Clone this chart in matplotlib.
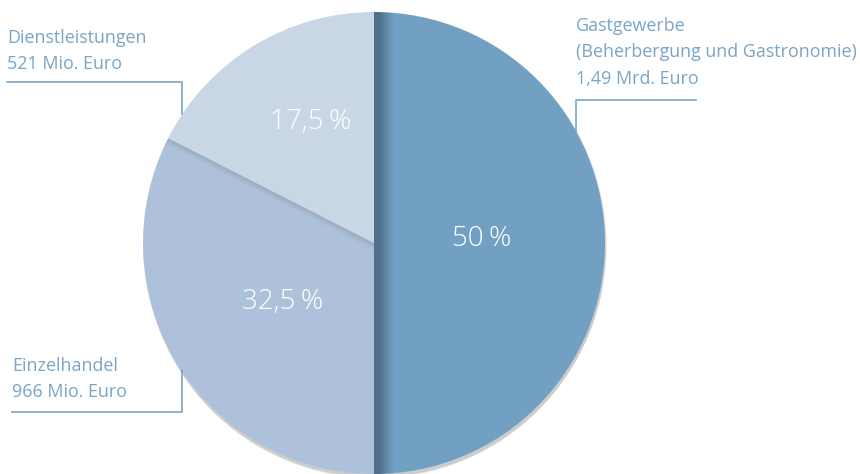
import numpy as np
import matplotlib.pyplot as plt
from matplotlib.patches import Circle

# data
labels = ["Gastgewerbe\n(Beherbergung und Gastronomie)\n1,49 Mrd. Euro",
          "Einzelhandel\n966 Mio. Euro",
          "Dienstleistungen\n521 Mio. Euro"]
shares = [50, 32.5, 17.5]
pct_labels = ["50\u2009%", "32,5\u2009%", "17,5\u2009%"]
colors = ["#72a0c3", "#adc2da", "#c9d6e5"]
text_color = "#7aa4c8"

W, H = 860, 474
cx, cy, R = 374, H - 243, 231

fig = plt.figure(figsize=(8.6, 4.74), dpi=100)
ax = fig.add_axes([0, 0, 1, 1])

# soft shadow under the pie
for i, a in enumerate([0.05, 0.05, 0.05, 0.06]):
    ax.add_patch(Circle((cx + 1, cy - 2 - i), R + 1 - i * 0.5, color="black",
                        alpha=a, lw=0, zorder=0))

wedges, _ = ax.pie(shares, colors=colors, startangle=90, counterclock=False,
                   radius=R, center=(cx, cy), frame=True,
                   wedgeprops=dict(linewidth=0))
ax.set_xlim(0, W)
ax.set_ylim(0, H)
ax.set_aspect("equal")
ax.axis("off")

# shading along slice edges
xx, yy = np.meshgrid(np.arange(cx - R, cx + R + 1), np.arange(cy - R, cy + R + 1))
ext = [cx - R, cx + R, cy - R, cy + R]

d = xx - cx
a1 = np.clip(np.where(d < 5, 0.3, 0.3 * (20 - d) / 15), 0, 0.3)
img = np.zeros(xx.shape + (4,))
img[..., 3] = a1
im = ax.imshow(img, extent=ext, origin="lower", zorder=3, interpolation="bilinear")
im.set_clip_path(wedges[0])

ang = np.deg2rad(90 + 360 * shares[2] / 100)
nx, ny = np.sin(ang), -np.cos(ang)
d2 = -((xx - cx) * nx + (yy - cy) * ny)
a2 = np.clip(0.12 * (1 - d2 / 7), 0, 0.12)
img2 = np.zeros(xx.shape + (4,))
img2[..., 3] = np.where(d2 >= 0, a2, 0)
im2 = ax.imshow(img2, extent=ext, origin="lower", zorder=3, interpolation="bilinear")
im2.set_clip_path(wedges[1])

# percentage labels
pct_pos = [(482, H - 239), (283, H - 302), (311, H - 122)]
for (x, y), t in zip(pct_pos, pct_labels):
    ax.text(x, y, t, color="white", fontsize=20, fontfamily="Open Sans",
            fontweight="light", ha="center", va="center", zorder=5)

# category labels with leader lines
lab_pos = [(576, H - 17), (12, H - 357), (7, H - 29)]
for (x, y), t in zip(lab_pos, labels):
    ax.text(x, y, t, color=text_color, fontsize=12.9, fontfamily="Open Sans",
            ha="left", va="top", linespacing=1.6, zorder=5)

lc = dict(color=text_color, lw=1.2, zorder=5)
ax.plot([696, 576, 576], [H - 100, H - 100, H - 131], **lc)
ax.plot([7, 182, 182], [H - 82, H - 82, H - 114], **lc)
ax.plot([12, 182, 182], [H - 412, H - 412, H - 370], **lc)

fig.savefig("out.png", dpi=100)
